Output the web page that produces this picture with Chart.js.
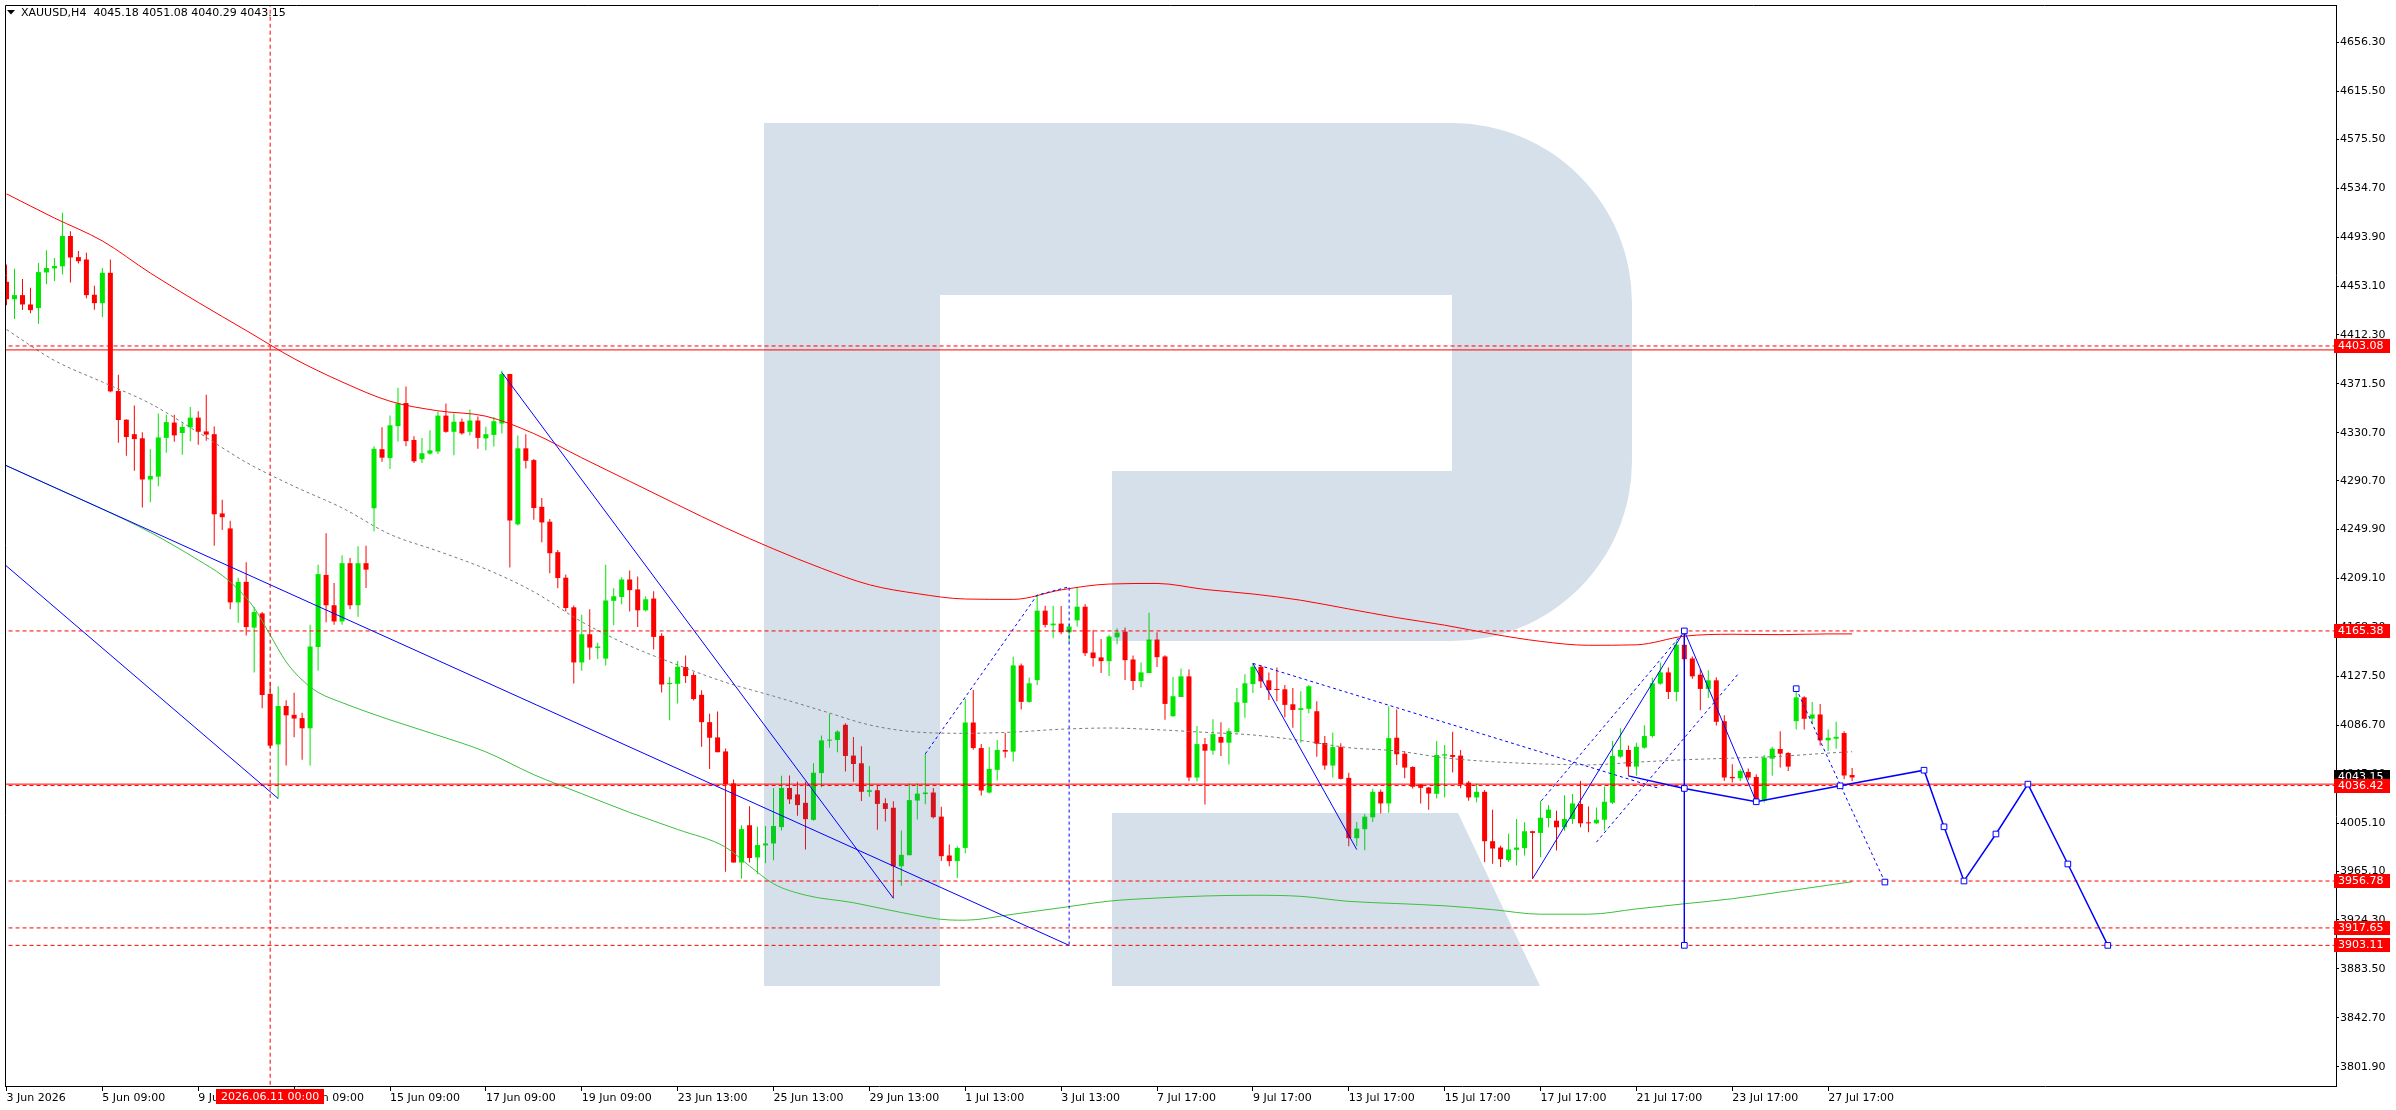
<!DOCTYPE html>
<html>
<head>
<meta charset="utf-8">
<title>XAUUSD H4</title>
<script src="https://cdn.jsdelivr.net/npm/chart.js@4.4.1/dist/chart.umd.min.js"></script>
<style>
  html, body { margin: 0; padding: 0; background: #fff; overflow: hidden; }
  canvas { display: block; }
</style>
</head>
<body>
<canvas id="chart" width="2396" height="1110"></canvas>
<script>
// H4 candles, bar 0 = 3 Jun 2026 09:00
const opens = [
  4456.6, 4442.1, 4445.5, 4437.7, 4434.7, 4464.4, 4467.8, 4469.5, 4494.8, 4477.2, 4475.2, 4445.8,
  4438.8, 4464.1, 4365.5, 4341.6, 4329.5, 4326.1, 4291.7, 4294.1, 4326.4, 4339.2, 4330.5, 4335.2,
  4343.3, 4331.8, 4329.5, 4263.4, 4250.9, 4189.2, 4206.3, 4168.2, 4180.0, 4112.9, 4070.7, 4102.8,
  4095.4, 4092.7, 4084.2, 4152.0, 4212.1, 4186.8, 4173.3, 4221.9, 4186.8, 4221.9, 4267.7, 4317.0,
  4309.6, 4336.2, 4355.5, 4324.7, 4308.6, 4313.3, 4315.0, 4345.0, 4331.5, 4339.9, 4331.5, 4340.9,
  4326.0, 4328.9, 4338.4, 4379.6, 4254.3, 4317.7, 4307.9, 4268.9, 4256.5, 4231.1, 4209.8, 4185.1,
  4139.1, 4162.6, 4151.2, 4142.3, 4190.5, 4193.7, 4208.3, 4200.0, 4182.6, 4192.4, 4161.3, 4121.0,
  4121.3, 4135.3, 4128.6, 4112.1, 4089.3, 4076.6, 4064.9, 4038.2, 3972.2, 4003.3, 3976.4, 3986.5,
  3988.1, 4001.7, 4034.4, 4029.0, 4022.0, 4007.8, 4046.8, 4073.8, 4074.4, 4087.1, 4061.4, 4055.0,
  4031.2, 4032.5, 4021.7, 4017.9, 3969.1, 3978.3, 4023.9, 4029.3, 4030.6, 4010.5, 3978.1, 3973.4,
  3984.4, 4089.0, 4067.7, 4030.6, 4049.5, 4066.1, 4064.7, 4136.6, 4106.2, 4124.4, 4182.3, 4170.1,
  4171.5, 4164.3, 4174.2, 4185.6, 4147.4, 4143.3, 4140.2, 4160.1, 4164.8, 4141.6, 4123.6, 4130.3,
  4158.2, 4144.1, 4094.3, 4110.3, 4127.5, 4043.1, 4071.0, 4065.5, 4076.9, 4072.2, 4081.0, 4105.4,
  4121.1, 4135.5, 4124.2, 4116.7, 4116.7, 4104.2, 4099.5, 4100.4, 4098.4, 4071.9, 4053.1, 4068.5,
  4042.8, 3992.5, 4000.0, 4009.9, 4031.2, 4021.5, 4076.3, 4063.0, 4051.9, 4037.3, 4034.8, 4029.5,
  4061.4, 4061.9, 4061.4, 4038.9, 4026.5, 4031.2, 3990.0, 3984.7, 3974.2, 3982.8, 3984.2, 3998.3,
  3996.9, 4009.3, 4007.1, 4001.6, 4008.5, 4021.0, 4005.7, 4004.9, 4007.9, 4022.1, 4060.5, 4066.1,
  4052.2, 4068.0, 4077.7, 4121.4, 4130.8, 4114.5, 4153.8, 4142.4, 4128.9, 4117.0, 4124.2, 4090.1,
  4043.6, 4042.5, 4047.8, 4043.6, 4023.7, 4058.8, 4066.9, 4063.6, 4090.1, 4110.0, 4092.3, 4095.7,
  4074.1, 4075.5, 4080.2, 4045.18
];
const highs = [
  4471.1, 4467.4, 4459.0, 4451.6, 4472.2, 4483.0, 4476.5, 4514.3, 4498.8, 4482.3, 4480.9, 4453.3,
  4468.1, 4475.2, 4379.1, 4341.9, 4353.4, 4331.2, 4317.0, 4346.7, 4345.7, 4345.7, 4338.6, 4352.1,
  4348.7, 4362.5, 4335.9, 4274.8, 4257.3, 4209.7, 4222.6, 4185.4, 4181.1, 4122.7, 4119.3, 4107.5,
  4113.9, 4097.1, 4170.6, 4220.5, 4246.8, 4205.3, 4228.6, 4226.3, 4236.0, 4236.4, 4319.4, 4335.2,
  4345.0, 4368.3, 4369.3, 4327.8, 4326.4, 4332.8, 4348.4, 4355.1, 4346.7, 4342.6, 4350.1, 4344.3,
  4335.8, 4343.7, 4382.5, 4380.0, 4328.5, 4329.5, 4308.8, 4276.2, 4258.7, 4233.0, 4212.4, 4186.7,
  4178.8, 4183.5, 4155.6, 4220.6, 4201.0, 4210.2, 4215.9, 4210.8, 4194.3, 4198.4, 4163.5, 4127.0,
  4140.4, 4144.8, 4130.9, 4115.9, 4096.3, 4098.2, 4067.4, 4041.4, 4003.3, 4019.2, 4002.0, 4002.7,
  4034.4, 4044.6, 4044.9, 4039.5, 4039.5, 4055.0, 4078.2, 4096.3, 4082.6, 4088.3, 4076.9, 4069.3,
  4052.8, 4036.0, 4025.8, 4023.3, 3998.9, 4038.2, 4038.2, 4062.9, 4034.4, 4018.8, 3987.2, 3985.8,
  4108.7, 4116.1, 4071.0, 4068.5, 4074.4, 4080.2, 4143.8, 4138.3, 4126.6, 4195.3, 4186.4, 4186.4,
  4186.1, 4171.7, 4201.9, 4187.8, 4166.2, 4158.7, 4162.1, 4167.6, 4168.2, 4144.9, 4139.1, 4180.6,
  4164.3, 4145.2, 4126.9, 4134.1, 4133.3, 4086.0, 4076.0, 4091.8, 4089.3, 4084.3, 4117.8, 4129.2,
  4138.3, 4136.9, 4130.8, 4134.9, 4120.3, 4117.8, 4115.0, 4120.3, 4106.7, 4077.7, 4080.7, 4071.6,
  4047.0, 4006.0, 4012.7, 4033.7, 4033.1, 4102.6, 4099.8, 4065.2, 4052.5, 4037.8, 4035.3, 4073.5,
  4070.2, 4081.3, 4066.1, 4040.3, 4038.1, 4032.6, 4016.3, 3986.1, 3996.3, 4008.5, 4005.7, 3998.8,
  4023.7, 4020.1, 4015.4, 4028.4, 4029.3, 4040.3, 4019.0, 4018.2, 4035.6, 4073.5, 4084.3, 4069.9,
  4072.1, 4086.8, 4126.1, 4139.1, 4134.9, 4157.4, 4165.4, 4144.1, 4133.6, 4132.5, 4126.7, 4095.1,
  4054.2, 4050.0, 4050.6, 4045.9, 4061.9, 4068.8, 4081.8, 4064.1, 4117.8, 4110.9, 4106.2, 4104.5,
  4083.2, 4089.6, 4081.8, 4051.08
];
const lows = [
  4437.1, 4425.6, 4433.0, 4430.3, 4421.6, 4454.6, 4457.3, 4462.7, 4456.0, 4471.8, 4442.8, 4433.4,
  4427.3, 4364.5, 4322.4, 4311.6, 4299.1, 4268.4, 4272.8, 4286.0, 4314.0, 4323.1, 4312.3, 4323.7,
  4320.7, 4324.1, 4236.4, 4249.5, 4183.4, 4172.3, 4161.5, 4130.8, 4100.8, 4067.7, 4025.6, 4053.2,
  4076.8, 4057.9, 4053.2, 4132.2, 4172.6, 4170.6, 4170.6, 4183.4, 4177.3, 4201.3, 4248.5, 4306.5,
  4300.5, 4323.4, 4319.4, 4305.5, 4305.5, 4312.3, 4313.0, 4330.8, 4311.9, 4329.1, 4328.5, 4317.3,
  4316.2, 4319.3, 4330.1, 4218.4, 4253.3, 4300.9, 4258.1, 4239.4, 4213.4, 4201.0, 4181.6, 4121.6,
  4132.1, 4141.3, 4142.0, 4136.6, 4170.2, 4187.6, 4181.6, 4168.6, 4181.6, 4149.9, 4114.0, 4090.9,
  4104.9, 4122.0, 4107.4, 4068.7, 4050.3, 4064.2, 3964.6, 3972.2, 3958.9, 3972.2, 3962.7, 3971.6,
  3974.1, 3998.9, 4021.1, 4011.2, 3983.0, 4007.1, 4035.0, 4068.0, 4064.2, 4048.1, 4039.5, 4023.6,
  4027.1, 3999.5, 4006.5, 3942.4, 3952.9, 3978.3, 4008.1, 4020.8, 4009.0, 3973.4, 3969.2, 3959.3,
  3980.0, 4066.3, 4028.2, 4029.8, 4040.6, 4059.7, 4056.4, 4099.8, 4105.4, 4120.3, 4168.2, 4159.3,
  4162.6, 4156.0, 4169.0, 4144.4, 4135.8, 4130.3, 4127.8, 4154.3, 4124.4, 4116.1, 4118.4, 4130.0,
  4135.2, 4091.2, 4093.7, 4110.3, 4040.3, 4039.8, 4020.7, 4062.2, 4061.1, 4053.9, 4080.4, 4092.9,
  4113.6, 4117.8, 4107.8, 4106.7, 4093.4, 4084.6, 4072.2, 4096.8, 4060.5, 4049.5, 4043.1, 4041.4,
  3985.8, 3985.8, 3982.5, 4006.0, 4013.2, 4013.8, 4053.6, 4042.5, 4034.0, 4021.5, 4016.3, 4025.7,
  4026.5, 4047.3, 4034.2, 4023.7, 4022.4, 3972.6, 3971.2, 3968.4, 3972.6, 3969.8, 3978.1, 3958.7,
  3976.7, 4001.6, 3982.2, 3998.8, 4004.4, 4001.6, 3997.5, 4004.4, 3998.8, 4021.0, 4059.7, 4044.5,
  4044.5, 4067.2, 4076.3, 4120.6, 4108.7, 4106.7, 4139.9, 4125.5, 4099.3, 4109.5, 4086.5, 4040.3,
  4038.9, 4040.3, 4040.9, 4022.3, 4022.3, 4044.5, 4051.4, 4048.6, 4083.2, 4083.2, 4087.9, 4069.9,
  4065.2, 4067.2, 4041.7, 4040.29
];
const closes = [
  4442.1, 4445.5, 4437.7, 4433.0, 4464.7, 4468.1, 4469.8, 4494.8, 4476.9, 4473.8, 4445.5, 4438.8,
  4464.1, 4365.2, 4341.3, 4327.1, 4325.4, 4291.7, 4294.7, 4326.8, 4339.6, 4328.5, 4335.5, 4343.3,
  4331.5, 4329.1, 4262.7, 4260.3, 4189.2, 4206.3, 4168.6, 4181.1, 4111.9, 4069.7, 4102.8, 4095.0,
  4092.3, 4084.2, 4152.4, 4212.8, 4186.8, 4173.3, 4221.9, 4186.8, 4221.9, 4216.5, 4317.3, 4309.9,
  4336.9, 4355.1, 4323.7, 4306.9, 4313.6, 4316.0, 4345.0, 4331.5, 4339.9, 4330.2, 4340.9, 4326.4,
  4329.5, 4340.3, 4379.6, 4257.5, 4317.7, 4307.3, 4267.9, 4255.9, 4230.2, 4209.5, 4184.5, 4139.1,
  4162.6, 4151.5, 4152.4, 4190.8, 4194.3, 4208.3, 4199.4, 4182.6, 4191.8, 4160.4, 4120.7, 4122.0,
  4135.6, 4127.7, 4108.6, 4089.3, 4076.3, 4064.2, 4037.6, 3972.2, 4000.1, 3976.0, 3986.8, 3988.1,
  4002.7, 4034.4, 4024.9, 4020.1, 4008.4, 4047.1, 4074.1, 4074.7, 4081.4, 4061.1, 4054.4, 4031.2,
  4032.5, 4021.1, 4016.9, 3969.1, 3978.6, 4024.3, 4029.7, 4030.6, 4010.0, 3977.5, 3973.4, 3984.4,
  4089.0, 4067.7, 4032.3, 4050.3, 4066.1, 4064.7, 4136.6, 4106.2, 4121.7, 4182.3, 4170.4, 4171.5,
  4164.3, 4169.0, 4185.6, 4146.8, 4142.7, 4140.2, 4160.7, 4164.0, 4141.0, 4123.6, 4130.8, 4158.2,
  4143.5, 4104.5, 4110.9, 4127.5, 4043.1, 4071.0, 4065.5, 4079.3, 4072.2, 4081.8, 4105.9, 4121.7,
  4135.5, 4123.3, 4116.1, 4116.1, 4103.7, 4099.5, 4100.9, 4119.2, 4071.3, 4053.1, 4068.5, 4042.0,
  3992.5, 4000.5, 4010.5, 4031.2, 4021.5, 4076.0, 4062.5, 4051.4, 4035.4, 4034.5, 4029.8, 4061.9,
  4062.5, 4060.3, 4037.6, 4026.5, 4031.2, 3990.0, 3983.9, 3975.0, 3983.1, 3984.7, 3998.3, 3996.9,
  4009.6, 4016.3, 4001.6, 4008.5, 4021.5, 4004.9, 4004.9, 4007.9, 4022.9, 4061.1, 4066.1, 4052.2,
  4068.8, 4077.7, 4121.7, 4130.8, 4114.5, 4153.8, 4141.8, 4127.5, 4117.0, 4124.2, 4089.6, 4043.1,
  4042.5, 4048.6, 4043.1, 4023.7, 4059.7, 4067.2, 4063.0, 4052.2, 4110.0, 4092.1, 4095.7, 4074.1,
  4076.3, 4077.1, 4044.8, 4043.15
];

// moving averages, [bar, price]
const redMa = [[0,4530],[6,4509.8],[12,4490.7],[18,4463.9],[24,4439.4],[30,4416],[36,4392.5],[42,4373.1],
  [48,4357],[54,4349],[60,4344.5],[66,4330],[72,4309.8],[78,4290.2],[84,4270.6],[90,4251.4],[96,4233.8],
  [102,4217.7],[108,4203.9],[114,4196.5],[120,4192],[126,4191.7],[132,4199.6],[138,4204.5],[144,4205],
  [150,4200],[156,4196.2],[162,4191],[168,4183.7],[174,4176.5],[180,4170.2],[186,4162.8],[192,4156.7],
  [198,4153.4],[204,4153.8],[210,4161],[216,4162.6],[222,4162.3],[228,4162.9],[231,4162.9]];
const grayMa = [[0,4416.8],[6,4391],[12,4373],[18,4355],[24,4331],[30,4306],[36,4286],[42,4268],[48,4246],
  [54,4232],[60,4217],[66,4198],[72,4173],[78,4153],[84,4137],[90,4122.5],[96,4111],[102,4099],[108,4087],
  [114,4081],[120,4080],[126,4081],[132,4083.4],[138,4084.4],[144,4083],[150,4080.8],[156,4078.6],
  [162,4074],[168,4068],[174,4065.3],[180,4059.5],[186,4056.3],[192,4054.5],[198,4053.7],[204,4055.9],
  [210,4057.9],[216,4059.3],[222,4060.8],[228,4063.5],[231,4064.6]];
const greenMa = [[0,4303.2],[6,4285],[12,4267],[18,4247.6],[24,4224.5],[27,4211.7],[29,4200],[31,4184.6],
  [33,4162],[35,4139.6],[37,4124.5],[39,4114.2],[42,4105.6],[48,4091.2],[54,4078.3],[60,4064.5],[66,4045.5],
  [72,4029.6],[78,4014],[84,3999.8],[90,3985],[93,3969.3],[96,3954.5],[100,3945],[106,3938.7],[112,3930.5],
  [118,3924.3],[120,3924.1],[126,3929.1],[132,3934.5],[138,3940],[144,3942.6],[150,3944.3],[156,3944.9],
  [162,3944],[168,3939.8],[174,3938],[180,3936.1],[186,3932.9],[192,3929.1],[198,3929.1],[204,3933.5],
  [210,3937.8],[216,3942],[222,3947.6],[228,3953.3],[231,3956.2]];

// drawn objects, [bar, price]
const trendA = [[-1,4306.2],[133,3903.11]];
const trendB = [[-1,4225.2],[34,4025.6]];
const trendC = [[62,4381],[111,3942.4]];
const trendF = [[156,4138.3],[169,3983]];
const waveJ = [[191,3958.7],[210,4165.4]];
const waveK = [[210,4165.4],[219,4022.9]];
const vertI = [[210,4165.4],[210,3903.11]];
const dashE = [[115,4062.9],[129,4195.3],[133,4202.2],[133,3903.11]];
const dashG = [[156,4138.3],[206.6,4034.5]];
const dashL1 = [[192.1,4023.7],[209.6,4162]];
const dashL2 = [[199,3989.2],[216.9,4130.8]];
const dashM = [[224,4117.2],[235.1,3955.9]];
const forecast = [[203,4044.5],[210,4034],[219,4022.9],[229.5,4036.2],[240,4049.2],[242.5,4002],
  [245,3956.8],[249,3996],[253,4037.6],[258,3971],[263,3903.1]];
const markers = [[210,4165.4],[210,3903.11],[224,4117.2],[235.1,3955.9]];

const dashedLevels = [4403.08, 4165.38, 4036.42, 3956.78, 3917.65, 3903.11];
const solidLevels = [4399.8, 4037.6];
const bidPrice = 4043.15;
const timeLineBar = 33;
const timeLineLabel = '2026.06.11 00:00';

const priceTicks = [3801.90, 3842.70, 3883.50, 3924.30, 3965.10, 4005.10, 4045.90, 4086.70, 4127.50,
  4168.30, 4209.10, 4249.90, 4290.70, 4330.70, 4371.50, 4412.30, 4453.10, 4493.90, 4534.70, 4575.50,
  4615.50, 4656.30];
const timeTickBars = [0, 12, 24, 36, 48, 60, 72, 84, 96, 108, 120, 132, 144, 156, 168, 180, 192, 204, 216, 228];
const timeLabels = ['3 Jun 2026', '5 Jun 09:00', '9 Jun 09:00', '11 Jun 09:00', '15 Jun 09:00',
  '17 Jun 09:00', '19 Jun 09:00', '23 Jun 13:00', '25 Jun 13:00', '29 Jun 13:00', '1 Jul 13:00',
  '3 Jul 13:00', '7 Jul 17:00', '9 Jul 17:00', '13 Jul 17:00', '15 Jul 17:00', '17 Jul 17:00',
  '21 Jul 17:00', '23 Jul 17:00', '27 Jul 17:00'];
const titleText = 'XAUUSD,H4  4045.18 4051.08 4040.29 4043.15';

const FONT = '11px "DejaVu Sans"';
const upColor = '#00e600';
const downColor = '#ff0000';
const blue = '#0000ff';

function pts(arr) {
  return arr.map(p => ({x: p[0], y: p[1]}));
}

function lineSet(arr, color, width, dash, order) {
  return {
    type: 'line', data: pts(arr), borderColor: color, borderWidth: width,
    borderDash: dash || [], pointRadius: 0, fill: false, tension: 0, order: order
  };
}

function levelSet(v, dash) {
  return lineSet([[-5, v], [300, v]], '#ff0000', 1, dash, 3);
}

let candleColors = opens.map((o, i) => closes[i] >= o ? upColor : downColor);
let wickData = opens.map((o, i) => ({x: i, y: [lows[i], highs[i]]}));
let bodyData = opens.map((o, i) => ({x: i, y: [o, closes[i]]}));

let datasets = [
  {type: 'bar', label: 'wicks', data: wickData, backgroundColor: candleColors,
    grouped: false, maxBarThickness: 1, borderWidth: 0, order: 20},
  {type: 'bar', label: 'bodies', data: bodyData, backgroundColor: candleColors,
    grouped: false, maxBarThickness: 5, minBarLength: 1, borderWidth: 0, order: 19}
];

let ma = [
  {arr: redMa, color: '#ff0000', dash: null},
  {arr: grayMa, color: '#7a7a7a', dash: [3, 3]},
  {arr: greenMa, color: '#3cbf3c', dash: null}
];
ma.forEach(m => {
  let ds = lineSet(m.arr, m.color, 1, m.dash, 8);
  ds.cubicInterpolationMode = 'monotone';
  datasets.push(ds);
});

dashedLevels.forEach(v => datasets.push(levelSet(v, [4, 3])));
solidLevels.forEach(v => datasets.push(levelSet(v, null)));
datasets.push(lineSet([[timeLineBar, 3600], [timeLineBar, 4800]], '#ff0000', 1, [4, 3], 3));

[trendA, trendB, trendC, trendF, waveJ, waveK, vertI].forEach(a => datasets.push(lineSet(a, blue, 1, null, 2)));
[dashE, dashG, dashL1, dashL2, dashM].forEach(a => datasets.push(lineSet(a, blue, 1, [3, 3], 2)));

let fc = lineSet(forecast, blue, 1.5, null, 1);
fc.pointRadius = forecast.map((p, i) => i === 0 ? 0 : 4);
fc.pointStyle = 'rect';
fc.pointBorderColor = blue;
fc.pointBackgroundColor = '#ffffff';
fc.pointBorderWidth = 1;
datasets.push(fc);

datasets.push({
  type: 'line', data: pts(markers), showLine: false, pointStyle: 'rect', pointRadius: 4,
  pointBorderColor: blue, pointBackgroundColor: '#ffffff', pointBorderWidth: 1, order: 0
});

// RoboForex style watermark, tints the candles under it
function drawLogo(ctx) {
  ctx.save();
  ctx.fillStyle = 'rgba(45, 100, 150, 0.2)';
  ctx.beginPath();
  ctx.moveTo(764, 123);
  ctx.lineTo(1452, 123);
  ctx.arc(1452, 303, 180, -Math.PI / 2, 0);
  ctx.lineTo(1632, 461);
  ctx.arc(1452, 461, 180, 0, Math.PI / 2);
  ctx.lineTo(1112, 641);
  ctx.lineTo(1112, 471);
  ctx.lineTo(1452, 471);
  ctx.lineTo(1452, 295);
  ctx.lineTo(940, 295);
  ctx.lineTo(940, 986);
  ctx.lineTo(764, 986);
  ctx.closePath();
  ctx.moveTo(1112, 813);
  ctx.lineTo(1458, 813);
  ctx.lineTo(1540, 986);
  ctx.lineTo(1112, 986);
  ctx.closePath();
  ctx.fill();
  ctx.restore();
}

function priceBox(ctx, y, text, bg) {
  ctx.fillStyle = bg;
  ctx.fillRect(2334, Math.round(y) - 7, 56, 14);
  ctx.fillStyle = '#ffffff';
  ctx.fillText(text, 2338, Math.round(y));
}

const decor = {
  id: 'decor',
  afterDatasetDraw(chart, args) {
    if (chart.data.datasets[args.index].label === 'bodies') {
      drawLogo(chart.ctx);
    }
  },
  afterDraw(chart) {
    const ctx = chart.ctx;
    const a = chart.chartArea;
    const ys = chart.scales.y;
    const xs = chart.scales.x;
    ctx.save();
    // frame
    ctx.strokeStyle = '#000';
    ctx.lineWidth = 1;
    ctx.beginPath();
    ctx.moveTo(a.left + 0.5, a.bottom);
    ctx.lineTo(a.left + 0.5, a.top + 0.5);
    ctx.lineTo(a.right, a.top + 0.5);
    ctx.stroke();
    // title
    ctx.fillStyle = '#000';
    ctx.beginPath();
    ctx.moveTo(7, 10);
    ctx.lineTo(15, 10);
    ctx.lineTo(11, 14.5);
    ctx.closePath();
    ctx.fill();
    ctx.font = FONT;
    ctx.textBaseline = 'middle';
    ctx.textAlign = 'left';
    ctx.fillText(titleText, 21, 13);
    // price labels on the axis
    priceBox(ctx, ys.getPixelForValue(bidPrice), bidPrice.toFixed(2), '#000000');
    dashedLevels.forEach(v => priceBox(ctx, ys.getPixelForValue(v), v.toFixed(2), '#ff0000'));
    // time label of the vertical line
    let tx = xs.getPixelForValue(timeLineBar);
    ctx.fillStyle = '#ff0000';
    ctx.fillRect(Math.round(tx) - 54, 1089, 108, 15);
    ctx.fillStyle = '#ffffff';
    ctx.textAlign = 'center';
    ctx.fillText(timeLineLabel, tx, 1097);
    ctx.restore();
  }
};

Chart.defaults.font.family = '"DejaVu Sans"';
Chart.defaults.font.size = 11;

new Chart(document.getElementById('chart'), {
  type: 'bar',
  data: {datasets: datasets},
  options: {
    responsive: false,
    devicePixelRatio: 1,
    animation: false,
    events: [],
    layout: {padding: {left: 2, top: 3, right: 0, bottom: 0}},
    plugins: {legend: {display: false}, tooltip: {enabled: false}},
    scales: {
      x: {
        type: 'linear', min: -0.1875, max: 291.5625, bounds: 'data', offset: false,
        grid: {drawOnChartArea: false, drawTicks: true, tickLength: 5, color: '#000', offset: false},
        border: {display: true, color: '#000'},
        afterBuildTicks: s => { s.ticks = timeTickBars.map(v => ({value: v})); },
        afterFit: s => { s.height = 24; s.paddingLeft = 0; s.paddingRight = 0; },
        ticks: {
          autoSkip: false, maxRotation: 0, minRotation: 0, align: 'start', padding: 1,
          color: '#000', font: {size: 11}, callback: (v, i) => timeLabels[i]
        }
      },
      y: {
        type: 'linear', position: 'right', min: 3785.8, max: 4687.5, bounds: 'data', beginAtZero: false,
        grid: {drawOnChartArea: false, tickLength: 3, color: '#000'},
        border: {display: true, color: '#000'},
        afterBuildTicks: s => { s.ticks = priceTicks.map(v => ({value: v})); },
        afterFit: s => { s.width = 60; s.paddingTop = 0; s.paddingBottom = 0; },
        ticks: {autoSkip: false, padding: 1, color: '#000', font: {size: 11}, callback: v => v.toFixed(2)}
      }
    }
  },
  plugins: [decor]
});
</script>
</body>
</html>
